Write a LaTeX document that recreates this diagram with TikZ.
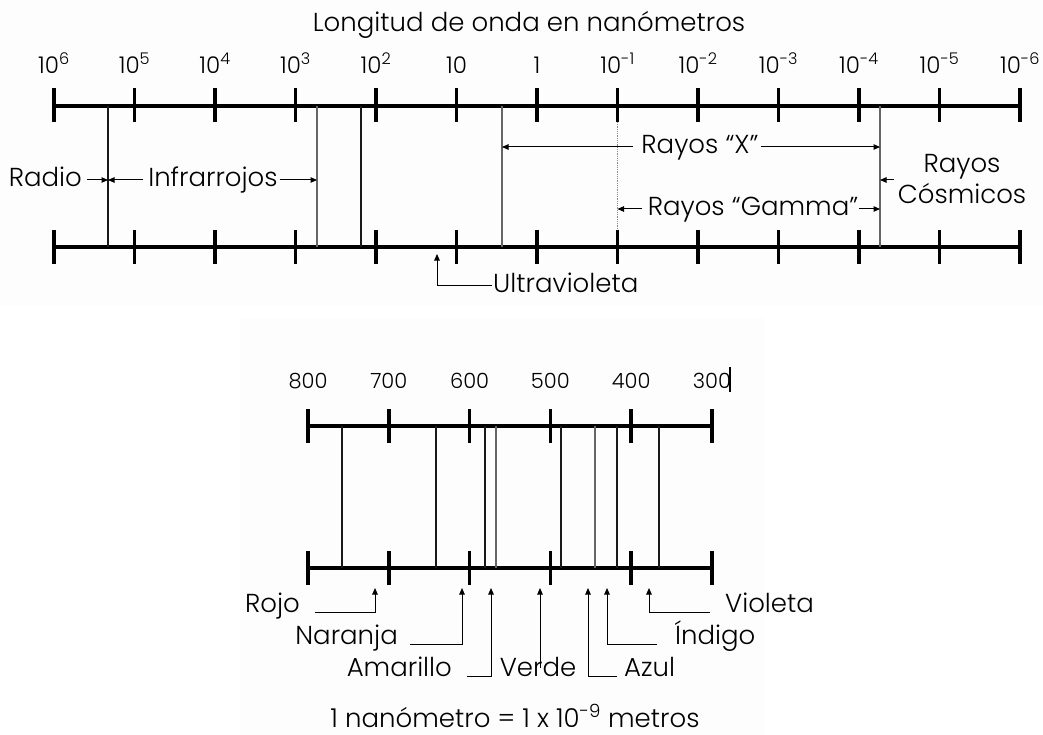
\documentclass[tikz,border=0pt]{standalone}
\usepackage{fontspec}
\setmainfont{Poppins Light}
\usetikzlibrary{arrows.meta}

\tikzset{
  axisline/.style={line width=3.5pt},
  tickmark/.style={line width=3.5pt},
  band/.style={line width=1.2pt, black!90},
  greyband/.style={line width=1.4pt, black!60},
  lbl/.style={font=\fontsize{26}{30}\selectfont, inner sep=0pt},
  num/.style={font=\fontsize{23}{26}\selectfont, inner sep=0pt, anchor=base},
  vnum/.style={font=\fontsize{21}{24}\selectfont, inner sep=0pt, anchor=base},
  arr/.style={-{Triangle[length=6.5pt,width=5.5pt]}, line width=1pt},
}

\begin{document}
\begin{tikzpicture}[x=1pt, y=-1pt]
\useasboundingbox (0,0) rectangle (1043,735);
\fill[black!0.7] (0,0) rectangle (1043,306);
\fill[black!0.7] (240,318) rectangle (765,735);

% ---------- full spectrum (log scale, nm) ----------
\node[lbl, anchor=base] (title) at (529,32) {Longitud de onda en nanómetros};

\draw[axisline] (54,106) -- (1020,106);
\draw[axisline] (54,247) -- (1020,247);
\foreach [count=\i from 0] \t in {10\textsuperscript{6},10\textsuperscript{5},10\textsuperscript{4},10\textsuperscript{3},10\textsuperscript{2},10,1,10\textsuperscript{-1},10\textsuperscript{-2},10\textsuperscript{-3},10\textsuperscript{-4},10\textsuperscript{-5},10\textsuperscript{-6}} {
  \draw[tickmark] (54+80.5*\i,88) -- (54+80.5*\i,122);
  \draw[tickmark] (54+80.5*\i,230) -- (54+80.5*\i,264);
  \node[num] (top\i) at (54+80.5*\i,74) {\t};
}

% region boundaries
\coordinate (bRadio) at (108,180);
\coordinate (bIR) at (317,180);
\coordinate (bXl) at (502,147);
\coordinate (bGl) at (617.5,208);
\coordinate (bCos) at (880,180);
\draw[band] (108,106) -- (108,247);
\draw[greyband] (317,106) -- (317,247);
\draw[band] (361,106) -- (361,247);
\draw[greyband] (502,106) -- (502,247);
\draw[black!45, line width=0.8pt, densely dotted] (617.5,122) -- (617.5,230);
\draw[greyband] (880,106) -- (880,247);

\node[lbl, anchor=base east] (radio) at (82,187) {Radio};
\draw[arr] ([xshift=5pt,yshift=7pt]radio.base east) -- ([yshift=7pt]radio.base east -| bRadio);

\node[lbl, anchor=base] (ir) at (213,187) {Infrarrojos};
\draw[arr] ([xshift=-5pt,yshift=7pt]ir.base west) -- ([yshift=7pt]ir.base west -| bRadio);
\draw[arr] ([xshift=2pt,yshift=7pt]ir.base east) -- ([yshift=7pt]ir.base east -| bIR);

\node[lbl, anchor=base] (xray) at (700,154) {Rayos “X”};
\draw[arr] ([xshift=-8pt,yshift=7pt]xray.base west) -- ([yshift=7pt]xray.base west -| bXl);
\draw[arr] ([xshift=2pt,yshift=7pt]xray.base east) -- ([yshift=7pt]xray.base east -| bCos);

\node[lbl, anchor=base] (gamma) at (753,216) {Rayos “Gamma”};
\draw[arr] ([xshift=-6pt,yshift=7pt]gamma.base west) -- ([yshift=7pt]gamma.base west -| bGl);
\draw[arr] ([xshift=1pt,yshift=7pt]gamma.base east) -- ([yshift=7pt]gamma.base east -| bCos);

\node[lbl, anchor=base] (cosA) at (962,173) {Rayos};
\node[lbl, anchor=base] (cosB) at (962,204) {Cósmicos};
\coordinate (cosArr) at (894,180);
\draw[arr] (cosArr) -- (bCos);

\node[lbl, anchor=base west] (uv) at (493,292) {Ultravioleta};
\coordinate (uvTip) at (437,254);
\draw[arr] ([xshift=-1pt,yshift=7pt]uv.base west) -| (uvTip);

% ---------- visible spectrum (linear scale, nm) ----------
\draw[axisline] (308,426) -- (712,426);
\draw[axisline] (308,568) -- (712,568);
\foreach [count=\i from 0] \t in {800,700,600,500,400,300} {
  \draw[tickmark] (308+80.8*\i,409) -- (308+80.8*\i,443);
  \draw[tickmark] (308+80.8*\i,551) -- (308+80.8*\i,585);
  \node[vnum] (vis\i) at (308+80.8*\i,388) {\t};
}
\draw[line width=2.5pt] (730,367) -- (730,392);

\foreach \x in {342,436,485,561,617,659} \draw[band] (\x,426) -- (\x,568);
\foreach \x in {496,595} \draw[greyband] (\x,426) -- (\x,568);

\coordinate (tRojo) at (375,588);
\coordinate (tNaranja) at (462,588);
\coordinate (tAmarillo) at (491,588);
\coordinate (tVerde) at (540,588);
\coordinate (tAzul) at (588,588);
\coordinate (tIndigo) at (607,588);
\coordinate (tVioleta) at (649,588);

\node[lbl, anchor=base east] (rojo) at (300,612) {Rojo};
\draw[arr] ([xshift=15pt]rojo.base east) -| (tRojo);

\node[lbl, anchor=base east] (naranja) at (398,644) {Naranja};
\draw[arr] ([xshift=12pt]naranja.base east) -| (tNaranja);

\node[lbl, anchor=base east] (amarillo) at (452,676) {Amarillo};
\draw[arr] ([xshift=15pt]amarillo.base east) -| (tAmarillo);

\node[lbl, anchor=base] (verde) at (538,676) {Verde};
\draw[arr] ([yshift=8pt]verde.base -| tVerde) -- (tVerde);

\node[lbl, anchor=base west] (azul) at (624,676) {Azul};
\draw[arr] ([xshift=-7pt]azul.base west) -| (tAzul);

\node[lbl, anchor=base west] (indigo) at (675,644) {Índigo};
\draw[arr] ([xshift=-18pt]indigo.base west) -| (tIndigo);

\node[lbl, anchor=base west] (violeta) at (725,612) {Violeta};
\draw[arr] ([xshift=-15pt]violeta.base west) -| (tVioleta);

\node[lbl, anchor=base] (unit) at (515,727) {1 nanómetro = 1 x 10\textsuperscript{-9} metros};
\end{tikzpicture}
\end{document}
